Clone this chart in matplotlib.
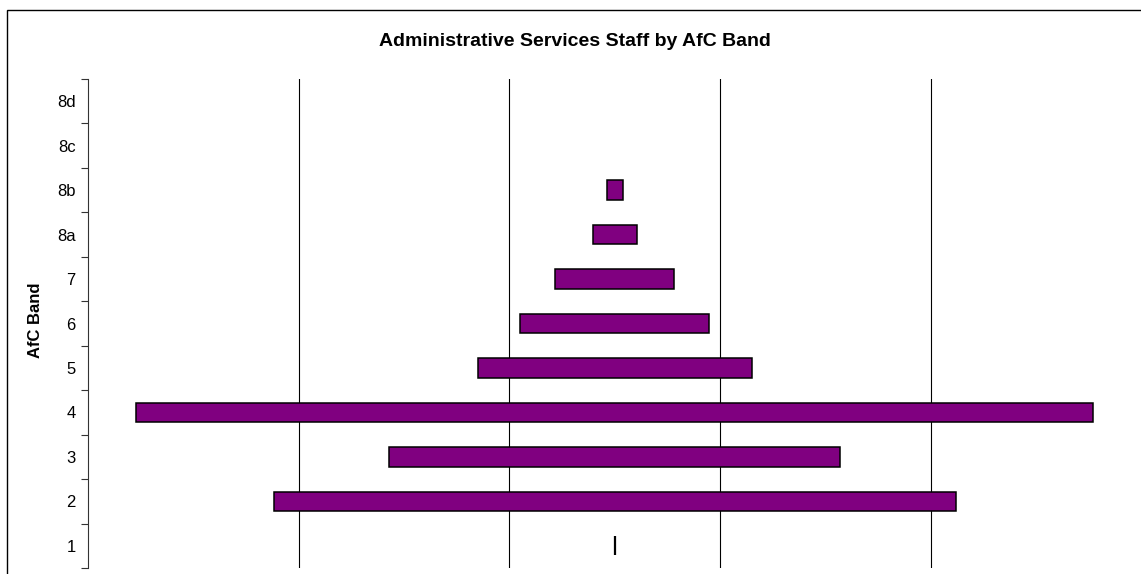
import matplotlib.pyplot as plt
import matplotlib.patches as mpatches
import numpy as np

plt.rcParams['font.family'] = ['Liberation Sans', 'DejaVu Sans']

# AfC bands, bottom to top, and staff numbers (None = no staff in band)
bands = ['1', '2', '3', '4', '5', '6', '7', '8a', '8b', '8c', '8d']
staff = [0, 32.35, 21.4, 45.4, 13.0, 8.97, 5.65, 2.09, 0.76, None, None]

axis_max = 50
centre = axis_max / 2

fig = plt.figure(figsize=(11.41, 5.74), dpi=100)
ax = fig.add_axes([88 / 1141, 1 - 568 / 574, 1053.5 / 1141, 489 / 574])

# floating bars centred on the middle of the axis
for i, v in enumerate(staff):
    if v is None:
        continue
    ax.barh(i, v, left=centre - v / 2, height=0.437, color='#800080',
            edgecolor='black', linewidth=1.1 if v > 0 else 1.6, zorder=3)

ax.set_xlim(0, axis_max)
ax.set_ylim(-0.5, len(bands) - 0.5)

# vertical gridlines
for gx in [10, 20, 30, 40]:
    ax.axvline(gx, color='black', linewidth=0.8, zorder=1)
ax.set_xticks([])

# band labels between boundary ticks
ax.set_yticks(np.arange(len(bands) + 1) - 0.5)
ax.set_yticklabels([])
ax.tick_params(axis='y', which='major', length=5, width=0.8, color='#333333')
ax.set_yticks(np.arange(len(bands)), minor=True)
ax.set_yticklabels(bands, minor=True, fontsize=12)
ax.tick_params(axis='y', which='minor', length=0, pad=9)

for s in ['top', 'right', 'bottom']:
    ax.spines[s].set_visible(False)
ax.spines['left'].set_linewidth(0.8)
ax.spines['left'].set_color('#333333')

fig.text(35 / 1141, 1 - 320 / 574, 'AfC Band', rotation=90, fontsize=12,
         fontweight='bold', ha='center', va='center')
fig.text(575 / 1141, 1 - 41 / 574, 'Administrative Services Staff by AfC Band',
         fontsize=14, fontweight='bold', ha='center', va='center')

# chart area border
fig.patches.append(mpatches.Rectangle((7 / 1141, -0.1), 1.2, 1.1 - 10 / 574,
                                      transform=fig.transFigure, fill=False,
                                      edgecolor='black', linewidth=1.0))

fig.savefig('out.png', dpi=100)
